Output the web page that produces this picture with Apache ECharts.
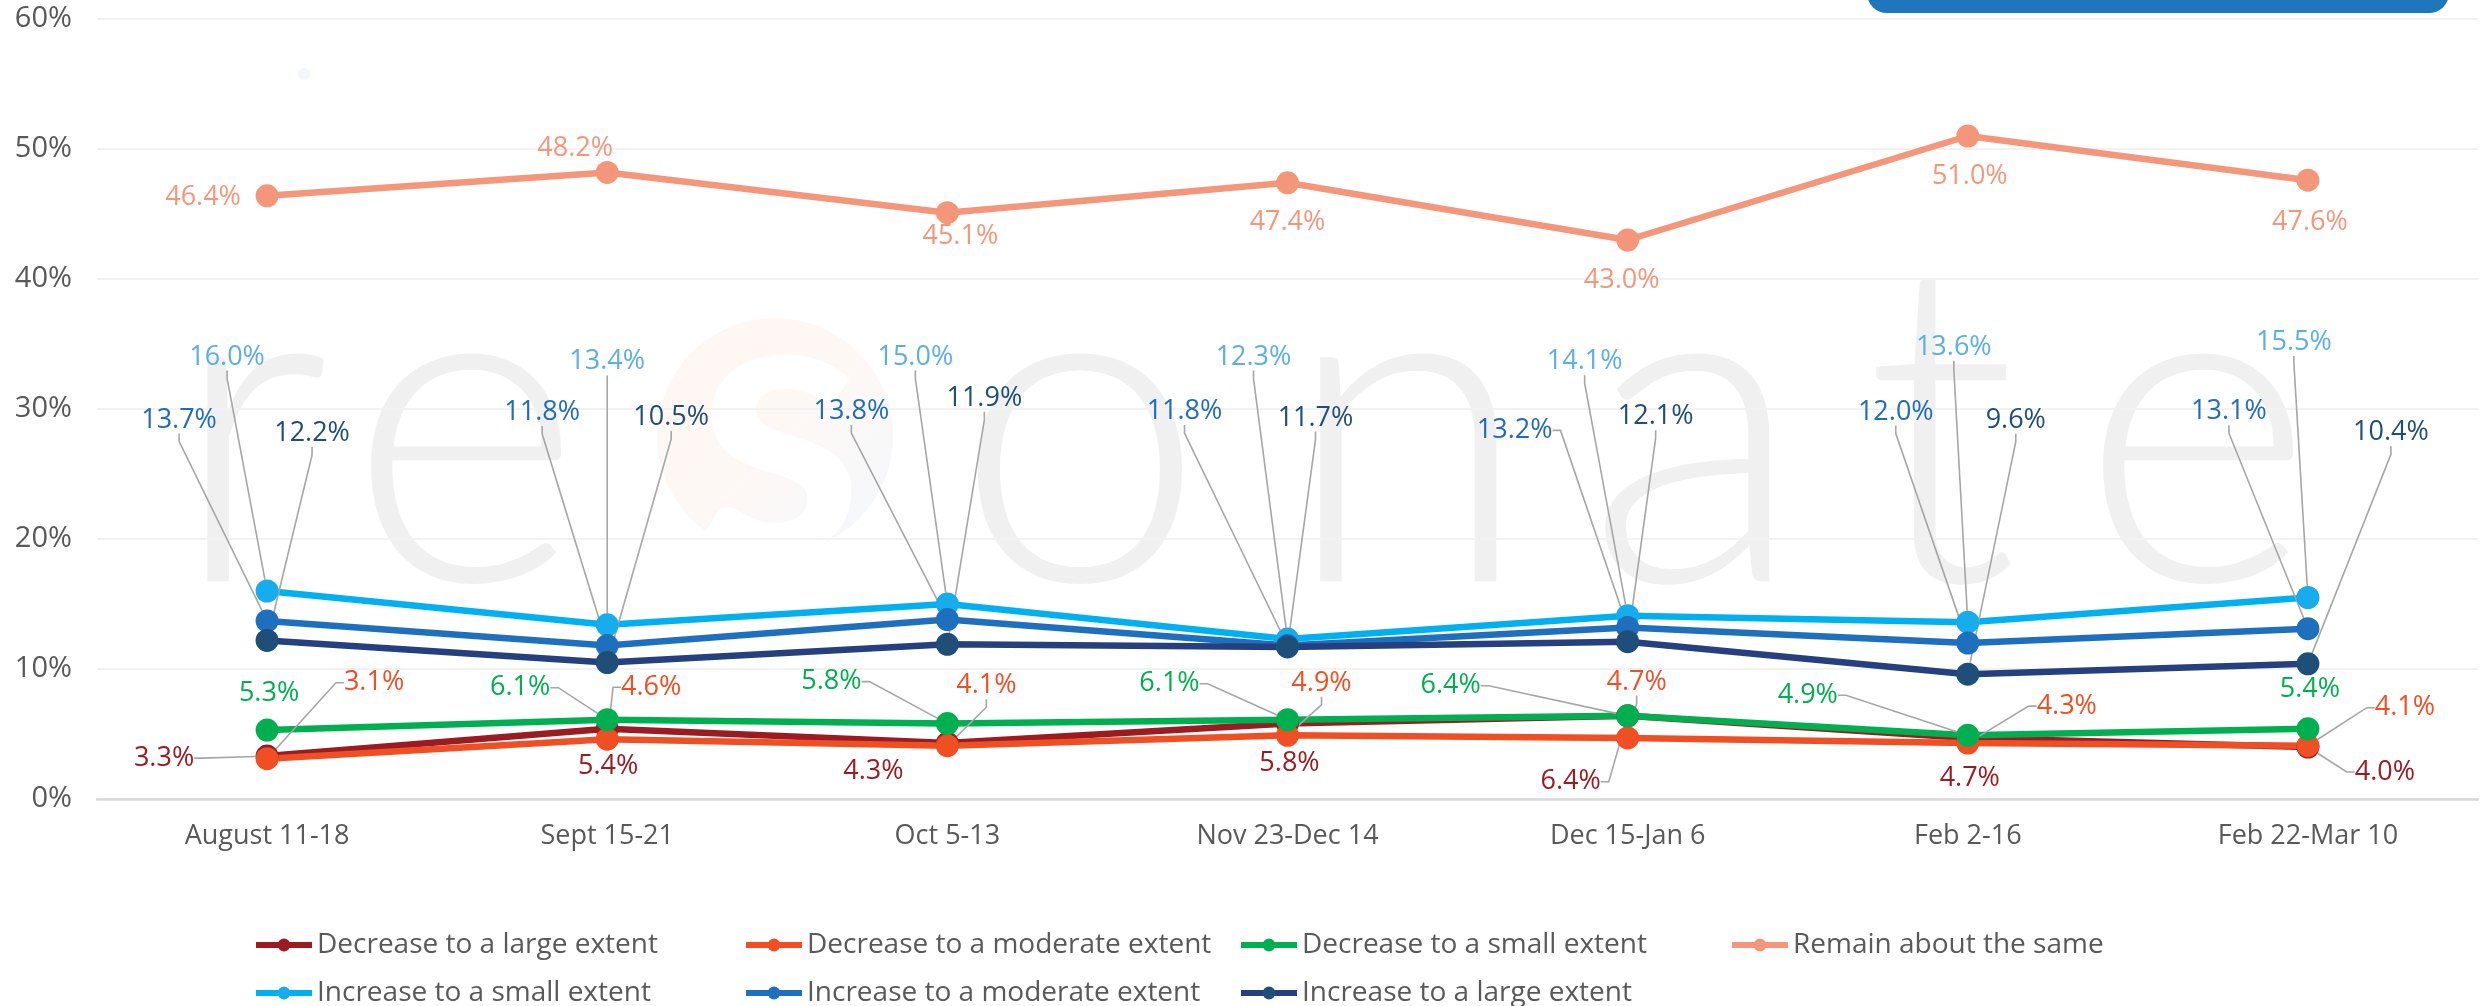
<!DOCTYPE html>
<html>
<head>
<meta charset="utf-8">
<script src="https://cdn.jsdelivr.net/npm/echarts@6/dist/echarts.min.js"></script>
<style>
  html, body { margin: 0; padding: 0; background: #ffffff; }
  #chart { width: 2481px; height: 1006px; }
</style>
</head>
<body>
<div id="chart"></div>
<script>
// categories
const periods = ['August 11-18', 'Sept 15-21', 'Oct 5-13', 'Nov 23-Dec 14', 'Dec 15-Jan 6', 'Feb 2-16', 'Feb 22-Mar 10'];

// values (%)
const decreaseLarge    = [3.3, 5.4, 4.3, 5.8, 6.4, 4.7, 4.0];
const decreaseModerate = [3.1, 4.6, 4.1, 4.9, 4.7, 4.3, 4.1];
const decreaseSmall    = [5.3, 6.1, 5.8, 6.1, 6.4, 4.9, 5.4];
const remainSame       = [46.4, 48.2, 45.1, 47.4, 43.0, 51.0, 47.6];
const increaseSmall    = [16.0, 13.4, 15.0, 12.3, 14.1, 13.6, 15.5];
const increaseModerate = [13.7, 11.8, 13.8, 11.8, 13.2, 12.0, 13.1];
const increaseLarge    = [12.2, 10.5, 11.9, 11.7, 12.1, 9.6, 10.4];

// y axis ticks
const yMin = 0, yMax = 60, yStep = 10;

// label offsets from the point (px) and whether a leader line is drawn
const offDecLarge = [[-103, 2], [1, 38], [-74, 28], [2, 40], [-57, 66], [2, 40], [77, 25]];
const leadDecLarge = [1, 0, 0, 0, 1, 0, 1];
const offDecMod = [[107, -76], [44, -52], [39, -60], [34, -52], [9, -56], [99, -37], [97, -38]];
const leadDecMod = [1, 1, 1, 1, 1, 1, 1];
const offDecSmall = [[2, -37], [-87, -32], [-116, -42], [-118, -36], [-177, -30], [-160, -40], [2, -39]];
const leadDecSmall = [0, 1, 1, 1, 1, 1, 0];
const offSame = [[-64, 2], [-32, -24], [13, 24], [0, 40], [-6, 40], [2, 40], [2, 42]];
const leadSame = [0, 0, 0, 0, 0, 0, 0];
const offIncSmall = [[-40, -234], [0, -263], [-32, -247], [-34, -282], [-43, -254], [-14, -275], [-14, -255]];
const leadIncSmall = [1, 1, 1, 1, 1, 1, 1];
const offIncMod = [[-88, -201], [-65, -233], [-96, -208], [-103, -234], [-113, -197], [-72, -231], [-79, -217]];
const leadIncMod = [1, 1, 1, 1, 1, 1, 1];
const offIncLarge = [[45, -207], [64, -245], [37, -246], [28, -229], [28, -225], [48, -254], [83, -231]];
const leadIncLarge = [1, 1, 1, 1, 1, 1, 1];

const seriesDefs = [
  { name: 'Decrease to a large extent', values: decreaseLarge, line: '#9A1B22', dot: '#9A1B22', text: '#9B1B20', off: offDecLarge, lead: leadDecLarge },
  { name: 'Decrease to a moderate extent', values: decreaseModerate, line: '#F04E23', dot: '#F04E23', text: '#F04E23', off: offDecMod, lead: leadDecMod },
  { name: 'Decrease to a small extent', values: decreaseSmall, line: '#00B050', dot: '#00B050', text: '#00B050', off: offDecSmall, lead: leadDecSmall },
  { name: 'Remain about the same', values: remainSame, line: '#F4967A', dot: '#F4967A', text: '#F4967A', off: offSame, lead: leadSame },
  { name: 'Increase to a small extent', values: increaseSmall, line: '#00B0F0', dot: '#17ACEB', text: '#5BAEE8', off: offIncSmall, lead: leadIncSmall },
  { name: 'Increase to a moderate extent', values: increaseModerate, line: '#1F6FBF', dot: '#1F6FBF', text: '#1F6CBD', off: offIncMod, lead: leadIncMod },
  { name: 'Increase to a large extent', values: increaseLarge, line: '#263F7F', dot: '#1F4E79', text: '#1F4E79', off: offIncLarge, lead: leadIncLarge }
];

// legend slots (left, top) per item
const legendCols = [253, 743, 1238, 1729];
const legendRows = [931, 979];

// watermark letters
const markLetters = ['r', 'e', 'o', 'n', 'a', 't', 'e'];
const markCenters = [250, 465, 1080, 1407, 1695, 1941, 2197];

const FONT = '"Open Sans"';
const chart = echarts.init(document.getElementById('chart'));

const series = seriesDefs.map(d => ({
  name: d.name,
  type: 'line',
  data: d.values.map((v, i) => ({ value: v, labelLine: { show: !!d.lead[i] } })),
  symbol: 'circle',
  symbolSize: 23,
  lineStyle: { color: d.line, width: 6.5 },
  itemStyle: { color: d.dot },
  label: {
    show: true,
    color: d.text,
    fontSize: 27,
    fontFamily: FONT,
    formatter: p => p.value.toFixed(1) + '%'
  },
  labelLine: {
    show: true,
    length2: 8,
    lineStyle: { color: '#A6A6A6', width: 1.6 }
  },
  labelLayout: p => {
    const o = d.off[p.dataIndex];
    return {
      x: p.rect.x + p.rect.width / 2 + o[0],
      y: p.rect.y + p.rect.height / 2 + o[1],
      align: 'center',
      verticalAlign: 'middle'
    };
  },
  emphasis: { disabled: true },
  animation: false
}));

const legends = seriesDefs.map((d, k) => ({
  data: [d.name],
  left: legendCols[k % 4],
  top: legendRows[Math.floor(k / 4)],
  padding: 0,
  itemWidth: 56,
  itemHeight: 16,
  selectedMode: false,
  lineStyle: { width: 6 },
  textStyle: { fontSize: 28, color: '#595959', fontFamily: FONT }
}));

const watermark = markLetters.map((ch, i) => ({
  type: 'text',
  x: markCenters[i],
  y: 436,
  z: -10,
  silent: true,
  style: {
    text: ch,
    fontSize: 450,
    fontFamily: 'Lato',
    fontWeight: 300,
    fill: '#F0F0F0',
    align: 'center',
    verticalAlign: 'middle'
  }
}));

const option = {
  backgroundColor: '#ffffff',
  animation: false,
  textStyle: { fontFamily: FONT },
  grid: { left: 97, right: 3, top: 19, bottom: 207 },
  legend: legends,
  graphic: [
    ...watermark,
    {
      type: 'circle', z: -10, silent: true,
      shape: { cx: 775, cy: 436, r: 118 },
      style: {
        fill: new echarts.graphic.LinearGradient(0, 0, 1, 1, [
          { offset: 0, color: '#FEF6F2' },
          { offset: 0.5, color: '#FEF8F5' },
          { offset: 1, color: '#F2F7FC' }
        ])
      }
    },
    {
      type: 'text', z: -9, silent: true, x: 780, y: 430,
      style: { text: 's', fontSize: 380, fontFamily: 'Lato', fontWeight: 700, fill: '#ffffff', align: 'center', verticalAlign: 'middle' }
    },
    {
      type: 'circle', z: -10, silent: true,
      shape: { cx: 304, cy: 74, r: 6 },
      style: { fill: '#F3F6FB' }
    },
    {
      type: 'rect', silent: true,
      shape: { x: 1867, y: -40, width: 582, height: 53, r: 20 },
      style: { fill: '#1F77BB' }
    }
  ],
  xAxis: {
    type: 'category',
    data: periods,
    boundaryGap: true,
    axisLine: { lineStyle: { color: '#D9D9D9', width: 2.5 } },
    axisTick: { show: false },
    axisLabel: { color: '#595959', fontSize: 27, margin: 24, fontFamily: FONT }
  },
  yAxis: {
    type: 'value',
    min: yMin,
    max: yMax,
    interval: yStep,
    axisLine: { show: false },
    axisTick: { show: false },
    axisLabel: { color: '#595959', fontSize: 29, margin: 25, formatter: '{value}%', fontFamily: FONT },
    splitLine: { lineStyle: { color: '#F2F2F2', width: 2 } }
  },
  series: series
};

chart.setOption(option);
</script>
</body>
</html>
